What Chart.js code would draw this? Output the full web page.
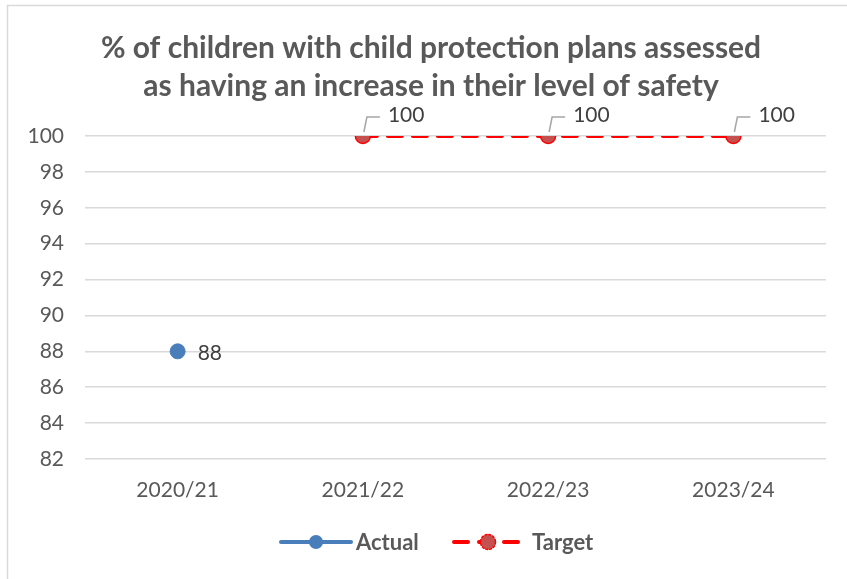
<!DOCTYPE html>
<html>
<head>
<meta charset="utf-8">
<script src="https://cdn.jsdelivr.net/npm/chart.js@4.4.0/dist/chart.umd.min.js"></script>
<style>
  html, body { margin: 0; padding: 0; background: #fff; }
  #wrap { width: 847px; height: 579px; position: relative; }
</style>
</head>
<body>
<div id="wrap"><canvas id="safetyChart" width="847" height="579"></canvas></div>
<script>
const years = ["2020/21", "2021/22", "2022/23", "2023/24"];
const actualValues = [88, null, null, null];
const targetValues = [null, 100, 100, 100];
const yTicks = { min: 82, max: 100, step: 2 };
const titleLines = [
    "% of children with child protection plans assessed",
    "as having an increase in their level of safety"
];

const textGrey = "#595959";
const blue = "#4a7ebb";
const red = "#ff0000";
const markerRed = "#c4504f";
const fontName = "Lato, 'Open Sans', sans-serif";

// border + title drawn behind the chart
const frame = {
    id: "frame",
    beforeDraw(chart) {
        const ctx = chart.ctx;
        ctx.save();
        ctx.strokeStyle = "#d9d9d9";
        ctx.lineWidth = 1.5;
        ctx.strokeRect(7.5, 5.5, 900, 700);
        ctx.fillStyle = textGrey;
        ctx.font = "bold 30px " + fontName;
        ctx.textAlign = "center";
        ctx.textBaseline = "alphabetic";
        ctx.fillText(titleLines[0], 431, 58);
        ctx.fillText(titleLines[1], 431, 96);
        ctx.restore();
    }
};

// value labels, with leader lines on the target points
const valueLabels = {
    id: "valueLabels",
    afterDatasetsDraw(chart) {
        const ctx = chart.ctx;
        ctx.save();
        ctx.font = "21px " + fontName;
        ctx.textBaseline = "middle";
        ctx.textAlign = "left";
        chart.data.datasets.forEach((ds, i) => {
            const meta = chart.getDatasetMeta(i);
            meta.data.forEach((pt, j) => {
                const v = ds.data[j];
                if (v === null) return;
                if (ds.label === "Actual") {
                    ctx.fillStyle = "#404040";
                    ctx.fillText(String(v), pt.x + 20, pt.y + 2);
                } else {
                    ctx.strokeStyle = "#a6a6a6";
                    ctx.lineWidth = 1.5;
                    ctx.beginPath();
                    ctx.moveTo(pt.x + 1, pt.y - 4);
                    ctx.lineTo(pt.x + 4, pt.y - 19);
                    ctx.lineTo(pt.x + 17, pt.y - 19);
                    ctx.stroke();
                    ctx.fillStyle = "#404040";
                    ctx.fillText(String(v), pt.x + 25, pt.y - 21);
                }
            });
        });
        ctx.restore();
    }
};

// legend with line + marker swatches
const lineLegend = {
    id: "lineLegend",
    afterDraw(chart) {
        const ctx = chart.ctx;
        const y = 542;
        ctx.save();
        // Actual
        ctx.strokeStyle = blue;
        ctx.lineWidth = 4;
        ctx.lineCap = "round";
        ctx.beginPath();
        ctx.moveTo(281, y);
        ctx.lineTo(351, y);
        ctx.stroke();
        ctx.fillStyle = blue;
        ctx.beginPath();
        ctx.arc(316, y, 7, 0, Math.PI * 2);
        ctx.fill();
        // Target
        ctx.strokeStyle = red;
        ctx.setLineDash([14, 11]);
        ctx.beginPath();
        ctx.moveTo(454, y);
        ctx.lineTo(518, y);
        ctx.stroke();
        ctx.setLineDash([2, 2]);
        ctx.lineWidth = 1.5;
        ctx.fillStyle = markerRed;
        ctx.beginPath();
        ctx.arc(488, y, 7.5, 0, Math.PI * 2);
        ctx.fill();
        ctx.stroke();
        ctx.setLineDash([]);
        ctx.fillStyle = textGrey;
        ctx.font = "bold 22px " + fontName;
        ctx.textBaseline = "middle";
        ctx.textAlign = "left";
        ctx.fillText("Actual", 356, y + 1);
        ctx.fillText("Target", 532, y + 1);
        ctx.restore();
    }
};

new Chart(document.getElementById("safetyChart"), {
    type: "line",
    data: {
        labels: years,
        datasets: [
            {
                label: "Actual",
                data: actualValues,
                borderColor: blue,
                backgroundColor: blue,
                borderWidth: 4,
                pointRadius: 7.5,
                pointBackgroundColor: blue,
                pointBorderColor: blue,
                pointBorderWidth: 1
            },
            {
                label: "Target",
                data: targetValues,
                borderColor: red,
                backgroundColor: markerRed,
                borderWidth: 4,
                borderDash: [14, 11],
                borderCapStyle: "round",
                pointRadius: 7.5,
                pointBackgroundColor: markerRed,
                pointBorderColor: red,
                pointBorderWidth: 1.5
            }
        ]
    },
    options: {
        responsive: false,
        animation: false,
        layout: { padding: { top: 136, right: 21, left: 0, bottom: 0 } },
        plugins: {
            legend: { display: false },
            title: { display: false },
            tooltip: { enabled: false }
        },
        scales: {
            x: {
                offset: true,
                grid: { display: false, drawTicks: false },
                border: { display: false },
                ticks: { color: textGrey, font: { family: fontName, size: 21 }, padding: 19 },
                afterFit(scale) { scale.height = 120; }
            },
            y: {
                min: yTicks.min,
                max: yTicks.max,
                grid: { color: "#d9d9d9", lineWidth: 1.5, drawTicks: false },
                border: { display: false },
                ticks: {
                    stepSize: yTicks.step,
                    color: textGrey,
                    font: { family: fontName, size: 21 },
                    padding: 21
                },
                afterFit(scale) { scale.width = 85; }
            }
        }
    },
    plugins: [frame, valueLabels, lineLegend]
});
</script>
</body>
</html>
